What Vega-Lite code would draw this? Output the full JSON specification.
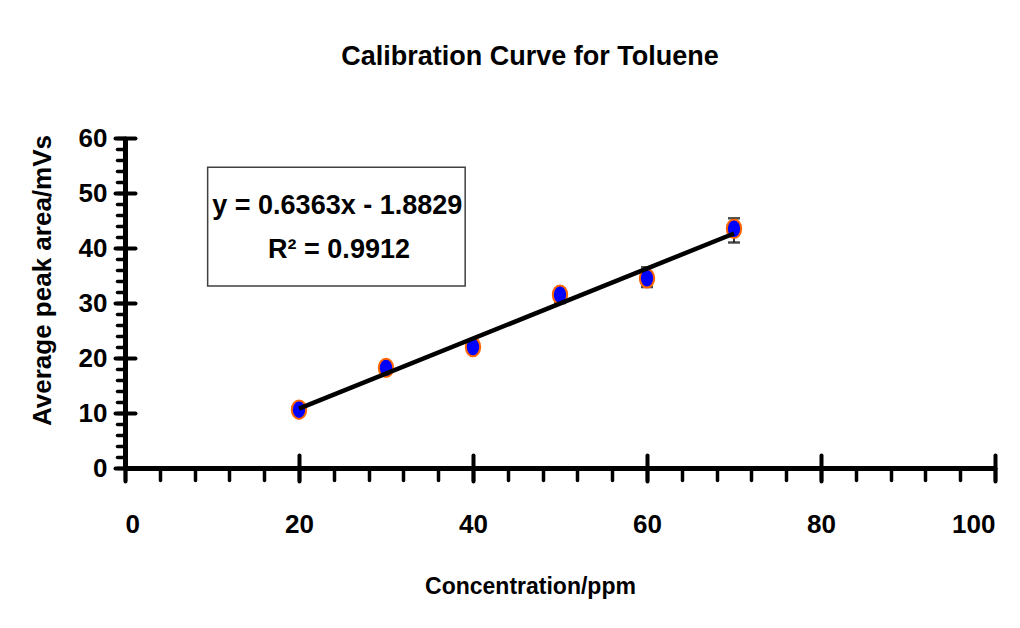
{
  "$schema": "https://vega.github.io/schema/vega-lite/v6.json",
  "autosize": {"type": "none"},
  "width": 870,
  "height": 330,
  "padding": {"left": 125, "top": 138, "right": 25, "bottom": 160},
  "background": "white",
  "config": {
    "view": {"stroke": null},
    "font": "Liberation Sans",
    "axis": {"grid": false, "labelFont": "Liberation Sans", "titleFont": "Liberation Sans", "labelColor": "black", "titleColor": "black", "tickColor": "black", "domainColor": "black"}
  },
  "title": {
    "text": "Calibration Curve for Toluene",
    "font": "Liberation Sans",
    "fontSize": 27,
    "fontWeight": "bold",
    "color": "black",
    "anchor": "middle",
    "dx": -30,
    "baseline": "bottom",
    "offset": 27
  },
  "data": {
    "values": [
      {"conc": 20, "area": 10.6, "lo": 10.2, "hi": 11.0},
      {"conc": 30, "area": 18.2, "lo": 17.6, "hi": 18.8},
      {"conc": 40, "area": 22.0, "lo": 21.0, "hi": 23.1},
      {"conc": 50, "area": 31.5, "lo": 30.0, "hi": 32.6},
      {"conc": 60, "area": 34.5, "lo": 32.9, "hi": 36.5},
      {"conc": 70, "area": 43.5, "lo": 41.0, "hi": 45.4}
    ]
  },
  "layer": [
    {
      "mark": {"type": "errorbar", "ticks": {"size": 12, "thickness": 2.5, "color": "black"}, "rule": {"strokeWidth": 1.5, "color": "black"}},
      "encoding": {
        "x": {"field": "conc", "type": "quantitative", "scale": {"domain": [0, 100], "nice": false},
          "axis": {"orient": "bottom", "values": [0, 20, 40, 60, 80, 100], "tickSize": 13, "tickWidth": 4, "tickCap": "round", "domainWidth": 5, "labelFontSize": 26, "labelFontWeight": "bold", "labelPadding": 30, "labelBaseline": "top",
            "title": "Concentration/ppm", "titleFontSize": 23, "titleFontWeight": "bold", "titleX": 405, "titleY": 118, "titleAnchor": null, "titleAlign": "center", "titleBaseline": "middle"}},
        "y": {"field": "lo", "type": "quantitative", "scale": {"domain": [0, 60], "nice": false},
          "axis": {"orient": "left", "values": [0, 10, 20, 30, 40, 50, 60], "tickSize": 10, "tickWidth": 4, "tickCap": "round", "domainWidth": 5, "labelFontSize": 26, "labelFontWeight": "bold", "labelPadding": 8,
            "title": "Average peak area/mVs", "titleFontSize": 26, "titleFontWeight": "bold", "titleAngle": -90, "titleX": -83, "titleY": 142, "titleAlign": "center", "titleBaseline": "middle"}},
        "y2": {"field": "hi"}
      }
    },
    {
      "mark": {"type": "point", "shape": "M-0.78,0A0.78,1,0,1,0,0.78,0A0.78,1,0,1,0,-0.78,0Z", "size": 340, "filled": true, "fill": "#0000FF", "stroke": "#FF6600", "strokeWidth": 2, "opacity": 1},
      "encoding": {
        "x": {"field": "conc", "type": "quantitative", "axis": {"orient": "bottom", "values": [0, 20, 40, 60, 80, 100], "tickSize": -13, "tickWidth": 4, "tickCap": "round", "domain": false, "labels": false, "title": null}},
        "y": {"field": "area", "type": "quantitative", "axis": {"orient": "left", "values": [0, 10, 20, 30, 40, 50, 60], "tickSize": -10, "tickWidth": 4, "tickCap": "round", "domain": false, "labels": false, "title": null}}
      }
    },
    {
      "transform": [{"regression": "area", "on": "conc"}],
      "mark": {"type": "line", "color": "black", "strokeWidth": 4.5},
      "encoding": {
        "x": {"field": "conc", "type": "quantitative", "axis": {"orient": "bottom", "values": [0, 4, 8, 12, 16, 20, 24, 28, 32, 36, 40, 44, 48, 52, 56, 60, 64, 68, 72, 76, 80, 84, 88, 92, 96, 100], "tickSize": 12, "tickWidth": 3.5, "tickCap": "round", "domain": false, "labels": false, "title": null}},
        "y": {"field": "area", "type": "quantitative", "axis": {"orient": "left", "values": [0, 2, 4, 6, 8, 10, 12, 14, 16, 18, 20, 22, 24, 26, 28, 30, 32, 34, 36, 38, 40, 42, 44, 46, 48, 50, 52, 54, 56, 58, 60], "tickSize": 8, "tickWidth": 3.5, "tickCap": "round", "domain": false, "labels": false, "title": null}}
      }
    },
    {
      "data": {"values": [{"box": "equation"}]},
      "mark": {"type": "rect", "fill": "white", "fillOpacity": 0, "stroke": "#404040", "strokeWidth": 1.5},
      "encoding": {
        "x": {"datum": 9.5, "type": "quantitative", "axis": null},
        "x2": {"datum": 39.1},
        "y": {"datum": 54.7, "type": "quantitative", "axis": null},
        "y2": {"datum": 33.1}
      }
    },
    {
      "data": {"values": [{"label": "y = 0.6363x - 1.8829"}]},
      "mark": {"type": "text", "fontSize": 27, "fontWeight": "bold", "color": "black", "align": "center", "baseline": "middle", "font": "Liberation Sans"},
      "encoding": {
        "x": {"datum": 24.4, "type": "quantitative", "axis": null},
        "y": {"datum": 47.6, "type": "quantitative", "axis": null},
        "text": {"field": "label"}
      }
    },
    {
      "data": {"values": [{"label": "R² = 0.9912"}]},
      "mark": {"type": "text", "fontSize": 27, "fontWeight": "bold", "color": "black", "align": "center", "baseline": "middle", "font": "Liberation Sans"},
      "encoding": {
        "x": {"datum": 24.6, "type": "quantitative", "axis": null},
        "y": {"datum": 39.6, "type": "quantitative", "axis": null},
        "text": {"field": "label"}
      }
    }
  ],
  "resolve": {"scale": {"x": "shared", "y": "shared"}, "axis": {"x": "independent", "y": "independent"}}
}
